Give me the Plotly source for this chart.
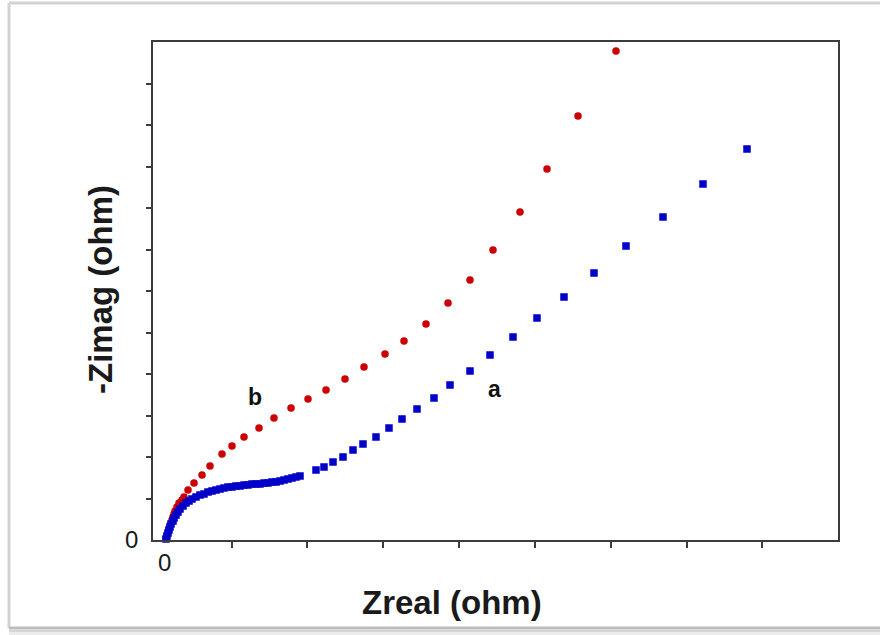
import plotly.graph_objects as go

# ---- data (arbitrary ohm units) ----
# curve b (red)
b_zreal = [1, 2, 3, 4, 5, 6, 7, 8, 9, 10, 12, 14, 17, 19, 23, 29, 37, 45, 57, 67,
           79, 94, 109, 126, 143, 161, 180, 199, 220, 239, 261, 283, 305, 328, 355,
           382, 413, 451]
b_zimag = [2, 5, 8, 11, 14, 17, 20, 23, 26, 29, 33, 37, 40, 43, 50, 57, 65, 74, 86, 94,
           103, 112, 122, 132, 141, 150, 161, 173, 186, 199, 216, 237, 260, 290, 328,
           371, 424, 489]

# curve a (blue)
a_zreal = [1, 2, 3, 4, 5, 6, 8, 9, 11, 13, 15, 18, 21, 24, 27, 31, 35, 39, 43, 47,
           51, 55, 59, 63, 67, 71, 75, 79, 83, 87, 91, 95, 99, 103, 107, 111, 115, 119,
           123, 127, 131, 135,
           151, 159, 168, 178, 188, 198, 211, 224, 237, 252, 269, 285, 305, 325, 348,
           372, 399, 429, 461, 498, 538, 582]
a_zimag = [1, 4, 7, 10, 13, 16, 19, 22, 25, 28, 31, 34, 37, 39, 41, 43, 45, 46, 48, 49,
           50, 51, 52, 53, 53, 54, 54, 55, 55, 56, 56, 56, 57, 57, 58, 58, 59, 60,
           61, 62, 63, 64,
           70, 73, 78, 83, 90, 96, 103, 112, 121, 131, 142, 155, 169, 185, 203,
           222, 243, 267, 294, 323, 356, 391]

x_range = [-12, 673]
y_range = [0, 498]
x_ticks = [67, 142, 218, 294, 370, 446, 522, 597]
y_ticks = [41.5, 83, 124.5, 166, 207.5, 249, 290.5, 332, 373.5, 415, 456.5]

AXIS = "#3c3c3c"
FONT = "Liberation Sans, Arial, sans-serif"

fig = go.Figure()
fig.add_trace(go.Scatter(
    x=b_zreal, y=b_zimag, mode="markers", name="b",
    marker=dict(symbol="circle", size=7.5, color="#cc0000", line=dict(width=0)),
    showlegend=False, cliponaxis=False))
fig.add_trace(go.Scatter(
    x=a_zreal, y=a_zimag, mode="markers", name="a",
    marker=dict(symbol="square", size=7.5, color="#0000c8", line=dict(width=0)),
    showlegend=False, cliponaxis=False))

fig.update_xaxes(range=x_range, showline=True, linecolor=AXIS, linewidth=2, mirror=True,
                 ticks="outside", ticklen=6, tickwidth=2, tickcolor=AXIS,
                 tickvals=x_ticks, showticklabels=False, showgrid=False, zeroline=False)
fig.update_yaxes(range=y_range, showline=True, linecolor=AXIS, linewidth=2, mirror=True,
                 ticks="outside", ticklen=5, tickwidth=2, tickcolor=AXIS,
                 tickvals=y_ticks, showticklabels=False, showgrid=False, zeroline=False)

def px(xp):
    return (xp - 153) / 685

def py(yp):
    return (540 - yp) / 498

def note(text, x, y, size, xref="paper", yref="paper", angle=0, color="#1a1a1a"):
    return dict(text=text, x=x, y=y, xref=xref, yref=yref, showarrow=False,
                xanchor="center", yanchor="middle", textangle=angle,
                font=dict(family=FONT, size=size, color=color))

annotations = [
    note("0", px(164), py(562), 24),
    note("0", px(131), py(539), 24),
    note("<b>Zreal (ohm)</b>", px(452), py(602), 33),
    note("<b>-Zimag (ohm)</b>", px(100), py(290), 33, angle=-90),
    note("<b>a</b>", px(494), py(389), 23, color="#111111"),
    note("<b>b</b>", px(255), py(397), 23, color="#111111"),
]

shapes = [
    # outer frame of the picture
    dict(type="line", xref="paper", yref="paper", x0=px(9), x1=px(9), y0=py(3), y1=py(628),
         line=dict(color="#d2d2d2", width=3)),
    dict(type="line", xref="paper", yref="paper", x0=px(9), x1=px(880), y0=py(3), y1=py(3),
         line=dict(color="#d2d2d2", width=3)),
    dict(type="line", xref="paper", yref="paper", x0=px(9), x1=px(880), y0=py(628), y1=py(628),
         line=dict(color="#bdbdbd", width=3)),
    dict(type="line", xref="paper", yref="paper", x0=px(9), x1=px(880), y0=py(631), y1=py(631),
         line=dict(color="#d6d6d6", width=3)),
    dict(type="line", xref="paper", yref="paper", x0=px(9), x1=px(880), y0=py(634), y1=py(634),
         line=dict(color="#ececec", width=3)),
]

fig.update_layout(
    width=880, height=635,
    margin=dict(l=153, r=42, t=42, b=95),
    paper_bgcolor="white", plot_bgcolor="white",
    annotations=annotations, shapes=shapes,
    font=dict(family=FONT),
)

fig.write_html("out.html")
